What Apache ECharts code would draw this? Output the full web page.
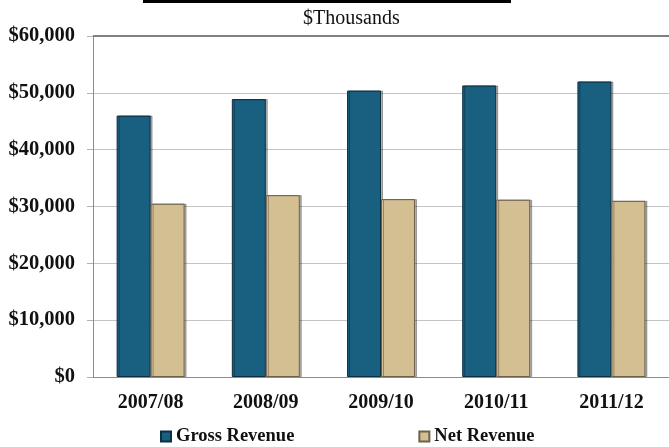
<!DOCTYPE html>
<html>
<head>
<meta charset="utf-8">
<script src="https://cdn.jsdelivr.net/npm/echarts@6/dist/echarts.min.js"></script>
<style>
  html, body { margin: 0; padding: 0; background: #ffffff; }
  #chart { width: 669px; height: 447px; }
</style>
</head>
<body>
<div id="chart"></div>
<script>
// Fiscal years shown along the x axis
const years = ['2007/08', '2008/09', '2009/10', '2010/11', '2011/12'];
// Revenue in $ thousands
const grossRevenue = [46000, 48900, 50400, 51300, 52000];
const netRevenue = [30500, 32000, 31300, 31200, 31000];
// Value axis ticks
const yTicks = [0, 10000, 20000, 30000, 40000, 50000, 60000];

const serif = '"Liberation Serif", "Times New Roman", serif';

const chart = echarts.init(document.getElementById('chart'), null, { renderer: 'canvas' });

const fmtMoney = v => '$' + v.toLocaleString('en-US');

chart.setOption({
  animation: false,
  backgroundColor: '#ffffff',
  graphic: [
    { type: 'rect', left: 143, top: 0, shape: { width: 368, height: 3 }, style: { fill: '#000000' } }
  ],
  title: {
    text: '$Thousands',
    left: 303,
    top: 9,
    padding: 0,
    textStyle: { fontFamily: serif, fontWeight: 'normal', fontSize: 20, color: '#111111' }
  },
  legend: {
    left: 160,
    top: 427,
    padding: 0,
    itemWidth: 10,
    itemHeight: 10,
    itemGap: 124,
    icon: 'rect',
    textStyle: { fontFamily: serif, fontWeight: 'bold', fontSize: 18.5, color: '#111111' },
    data: ['Gross Revenue', 'Net Revenue']
  },
  grid: { left: 93, right: 0, top: 36, bottom: 70, containLabel: false },
  xAxis: {
    type: 'category',
    data: years,
    axisLine: { lineStyle: { color: '#8c8c8c', width: 1 } },
    axisTick: { show: false },
    axisLabel: {
      margin: 16,
      fontFamily: serif, fontWeight: 'bold', fontSize: 20, color: '#111111'
    }
  },
  yAxis: {
    type: 'value',
    min: yTicks[0],
    max: yTicks[yTicks.length - 1],
    interval: yTicks[1] - yTicks[0],
    axisLine: { show: true, lineStyle: { color: '#8c8c8c', width: 1 } },
    axisTick: { show: true, length: 6, lineStyle: { color: '#b0b0b0' } },
    splitLine: { lineStyle: { color: '#c4c4c4', width: 1 } },
    axisLabel: {
      margin: 18,
      formatter: fmtMoney,
      fontFamily: serif, fontWeight: 'bold', fontSize: 20.5, color: '#111111'
    }
  },
  series: [
    {
      name: 'Gross Revenue',
      type: 'bar',
      data: grossRevenue,
      barWidth: '29.5%',
      barGap: '0%',
      itemStyle: {
        color: '#185f80',
        borderColor: '#0d2f42',
        borderWidth: 1,
        shadowColor: 'rgba(0,0,0,0.3)',
        shadowOffsetX: 2,
        shadowOffsetY: 0,
        shadowBlur: 0
      },
      markLine: {
        silent: true,
        symbol: 'none',
        label: { show: false },
        lineStyle: { color: '#808080', width: 2, type: 'solid' },
        data: [{ yAxis: yTicks[yTicks.length - 1] }]
      }
    },
    {
      name: 'Net Revenue',
      type: 'bar',
      data: netRevenue,
      barWidth: '29.5%',
      itemStyle: {
        color: '#d4bf92',
        borderColor: '#6e6149',
        borderWidth: 1,
        shadowColor: 'rgba(0,0,0,0.3)',
        shadowOffsetX: 2,
        shadowOffsetY: 0,
        shadowBlur: 0
      }
    }
  ]
});
</script>
</body>
</html>
